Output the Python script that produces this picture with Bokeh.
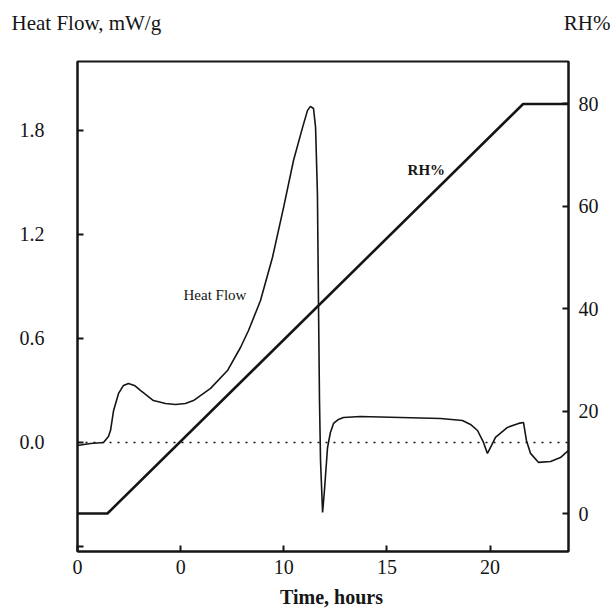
from bokeh.plotting import figure
from bokeh.models import Range1d, LinearAxis, FixedTicker, Label, Span
from bokeh.layouts import column
from bokeh.core.properties import value
from bokeh.embed import file_html
from bokeh.resources import INLINE

# ---- data ----
time_h = [0.0, 0.63, 1.26, 1.50, 1.60, 1.75, 1.99, 2.23, 2.47, 2.76, 3.05, 3.68,
          4.27, 4.75, 5.23, 5.62, 6.45, 7.27, 7.90, 8.29, 8.87, 9.45, 9.99, 10.47,
          10.91, 11.15, 11.29, 11.44, 11.54, 11.63, 11.68, 11.73, 11.78, 11.88,
          11.97, 12.12, 12.26, 12.41, 12.65, 12.89, 13.71, 15.66, 17.60, 18.66,
          19.05, 19.39, 19.68, 19.87, 20.07, 20.26, 20.84, 21.38, 21.62, 21.76,
          21.96, 22.35, 22.93, 23.41, 23.80]
heat_flow = [-0.017, -0.006, 0.0, 0.035, 0.069, 0.185, 0.283, 0.329, 0.340, 0.329,
             0.300, 0.242, 0.225, 0.219, 0.225, 0.242, 0.312, 0.415, 0.548, 0.646,
             0.819, 1.067, 1.356, 1.627, 1.818, 1.916, 1.939, 1.927, 1.818, 1.437,
             0.819, 0.242, -0.104, -0.404, -0.277, -0.029, 0.058, 0.110, 0.133,
             0.144, 0.150, 0.144, 0.138, 0.127, 0.104, 0.069, 0.0, -0.063, -0.017,
             0.029, 0.087, 0.110, 0.115, 0.012, -0.063, -0.115, -0.110, -0.087,
             -0.046]

rh_time = [0.0, 1.45, 21.6, 23.8]
rh_pct = [0, 0, 80, 80]

x_ticks = [0, 5, 10, 15, 20]
x_tick_labels = ["0", "0", "10", "15", "20"]
hf_ticks = [-0.6, 0.0, 0.6, 1.2, 1.8]
hf_tick_labels = ["", "0.0", "0.6", "1.2", "1.8"]
rh_ticks = [0, 20, 40, 60, 80]
rh_tick_labels = ["0", "20", "40", "60", "80"]

left_title = "Heat Flow, mW/g"
right_title = "RH%"
x_title = "Time, hours"

FONT = "Liberation Serif"
INK = "#151515"
W = 615


def blank(height):
    f = figure(width=W, height=height, output_backend="svg", toolbar_location=None,
               x_range=Range1d(0, W), y_range=Range1d(0, height), min_border=0,
               frame_align=False)
    f.title = None
    f.axis.visible = False
    f.grid.visible = False
    f.outline_line_color = None
    return f


# ---- header with the two axis titles ----
HEAD = 50
head = blank(HEAD)
head.text(x=[11], y=[HEAD - 22], text=[left_title], text_font=value(FONT),
          text_font_size="21px", text_color=INK, text_baseline="middle")
head.text(x=[W - 5], y=[HEAD - 22], text=[right_title], text_font=value(FONT),
          text_font_size="21px", text_color=INK, text_baseline="middle",
          text_align="right")

# ---- main chart ----
BOTTOM = 34
p = figure(frame_width=491, frame_height=490, output_backend="svg",
           toolbar_location=None, frame_align=False,
           x_range=Range1d(0, 23.8), y_range=Range1d(-0.629, 2.198),
           min_border_left=77, min_border_right=47, min_border_top=61 - HEAD,
           min_border_bottom=BOTTOM)
p.title = None
p.extra_y_ranges = {"rh": Range1d(-7.42, 88.3)}

p.xgrid.visible = False
p.ygrid.visible = False
p.outline_line_color = INK
p.outline_line_width = 2


def style_axis(ax, standoff):
    ax.axis_line_color = INK
    ax.axis_line_width = 2
    ax.major_tick_line_color = INK
    ax.major_tick_line_width = 2
    ax.major_tick_in = 6
    ax.major_tick_out = 0
    ax.minor_tick_line_color = None
    ax.major_label_text_font = FONT
    ax.major_label_text_font_size = "20px"
    ax.major_label_text_color = INK
    ax.major_label_standoff = standoff


xa = p.xaxis[0]
xa.ticker = FixedTicker(ticks=x_ticks)
xa.major_label_overrides = dict(zip(x_ticks, x_tick_labels))
style_axis(xa, 8)

ya = p.yaxis[0]
ya.ticker = FixedTicker(ticks=hf_ticks)
ya.major_label_overrides = dict(zip(hf_ticks, hf_tick_labels))
style_axis(ya, 33)

ra = LinearAxis(y_range_name="rh")
ra.ticker = FixedTicker(ticks=rh_ticks)
ra.major_label_overrides = dict(zip(rh_ticks, rh_tick_labels))
style_axis(ra, 10)
p.add_layout(ra, "right")

# zero baseline (dotted)
p.add_layout(Span(location=0, dimension="width", line_color=INK,
                  line_width=1.6, line_dash="2 6"))

# curves
p.line(time_h, heat_flow, line_color=INK, line_width=1.6)
p.line(rh_time, rh_pct, y_range_name="rh", line_color=INK, line_width=2.6)

# in-plot labels
p.add_layout(Label(x=5.14, y=0.85, text="Heat Flow", text_font=FONT,
                   text_font_size="15px", text_color=INK, text_baseline="middle"))
p.add_layout(Label(x=16.0, y=1.57, text="RH%", text_font=FONT,
                   text_font_size="15px", text_font_style="bold", text_color=INK,
                   text_baseline="middle"))

# ---- footer with the x-axis title ----
FOOT = 608 - HEAD - (61 - HEAD) - 490 - BOTTOM
foot = blank(FOOT)
foot.text(x=[331], y=[12], text=[x_title], text_font=value(FONT),
          text_font_size="20px", text_font_style="bold", text_color=INK,
          text_baseline="middle", text_align="center")

layout = column(head, p, foot, spacing=0)
open("out.html", "w").write(file_html(layout, INLINE))
